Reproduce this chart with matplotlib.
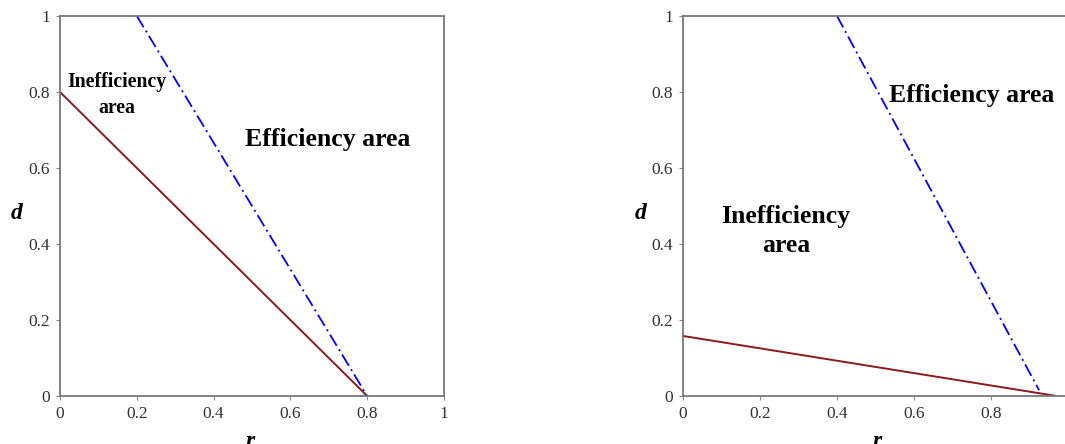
import matplotlib
matplotlib.use("Agg")
import matplotlib.pyplot as plt

# Left panel data (line endpoints in r, d)
left_red_r = [0.0, 0.8]
left_red_d = [0.8, 0.0]
left_blue_r = [0.2, 0.8]
left_blue_d = [1.0, 0.0]

# Right panel data
right_red_r = [0.0, 0.97]
right_red_d = [0.158, 0.0]
right_blue_r = [0.4, 0.925]
right_blue_d = [1.0, 0.015]

ticks = [0, 0.2, 0.4, 0.6, 0.8, 1]
tick_labels = ["0", "0.2", "0.4", "0.6", "0.8", "1"]
right_x_tick_labels = ["0", "0.2", "0.4", "0.6", "0.8", ""]

plt.rcParams['font.family'] = ['Liberation Serif', 'DejaVu Serif']

fig = plt.figure(figsize=(10.65, 4.44), dpi=100)
ax1 = fig.add_axes([60/1065, 1-396/444, 384/1065, 380/444])
ax2 = fig.add_axes([683/1065, 1-396/444, 385/1065, 380/444])

red = '#8B1A1A'
blue = '#0000FF'
dashdot = (0, (7.2, 2.3, 1.1, 2.3))

for ax, xl in ((ax1, tick_labels), (ax2, right_x_tick_labels)):
    ax.set_xlim(0, 1)
    ax.set_ylim(0, 1)
    ax.set_xticks(ticks)
    ax.set_xticklabels(xl)
    ax.set_yticks(ticks)
    ax.set_yticklabels(tick_labels)
    ax.tick_params(axis='both', direction='out', length=3, width=0.8,
                   colors='#888888', labelcolor='#333333', labelsize=12.5, pad=4)
    for s in ax.spines.values():
        s.set_color('#777777')
        s.set_linewidth(1.3)
    ax.set_xlabel('r', fontsize=17, fontweight='bold', fontstyle='italic')
    ax.set_ylabel('d', fontsize=17, fontweight='bold', fontstyle='italic', rotation=0)

ax1.xaxis.set_label_coords(0.495, -0.12)
ax1.yaxis.set_label_coords(-0.112, 0.48)
ax2.xaxis.set_label_coords(0.504, -0.12)
ax2.yaxis.set_label_coords(-0.109, 0.48)
for ax in (ax1, ax2):
    ax.yaxis.label.set_va('center')
    ax.yaxis.label.set_ha('center')
    ax.xaxis.label.set_va('center')

ax1.plot(left_red_r, left_red_d, color=red, lw=1.4, solid_capstyle='butt')
ax1.plot(left_blue_r, left_blue_d, color=blue, lw=1.3, linestyle=dashdot)
ax2.plot(right_red_r, right_red_d, color=red, lw=1.4, solid_capstyle='butt')
ax2.plot(right_blue_r, right_blue_d, color=blue, lw=1.3, linestyle=dashdot)

ax1.text(0.148, 0.792, 'Inefficiency\narea', transform=ax1.transAxes, ha='center', va='center',
         fontsize=14.2, fontweight='bold', linespacing=1.35)
ax1.text(0.697, 0.674, 'Efficiency area', transform=ax1.transAxes, ha='center', va='center',
         fontsize=18.5, fontweight='bold')
ax2.text(0.751, 0.79, 'Efficiency area', transform=ax2.transAxes, ha='center', va='center',
         fontsize=18.5, fontweight='bold')
ax2.text(0.268, 0.435, 'Inefficiency\narea', transform=ax2.transAxes, ha='center', va='center',
         fontsize=18.5, fontweight='bold', linespacing=1.33)

fig.savefig('out.png', dpi=100)
